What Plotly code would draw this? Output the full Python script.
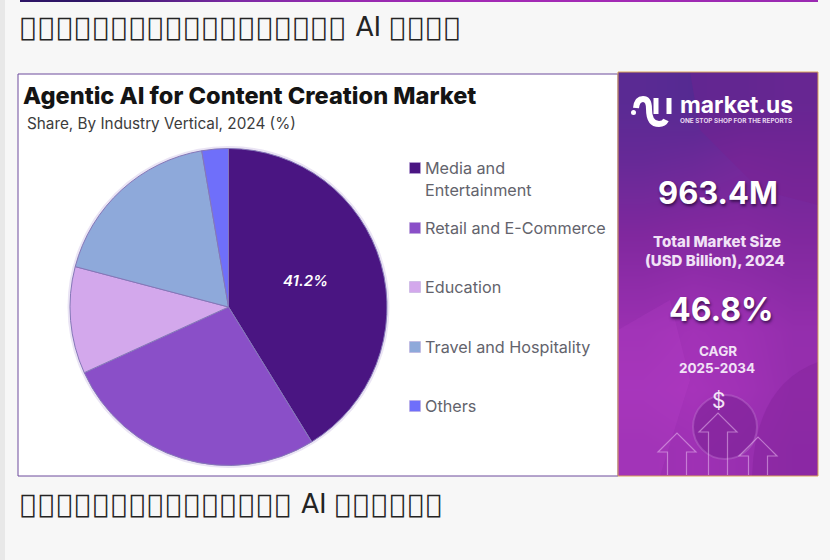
"""Agentic AI for Content Creation Market - pie card rebuilt on a pixel-sized plotly canvas."""

import plotly.graph_objects as go

# ─── Data ────────────────────────────────────────────────────────────────────

SEGMENTS = ["Media and<br>Entertainment", "Retail and E-Commerce", "Education",
            "Travel and Hospitality", "Others"]
SHARES = [41.2, 27.0, 10.9, 18.2, 2.7]
SLICE_COLORS = ["#4a1582", "#8a4fc8", "#d3a8ec", "#8ea9da", "#6f6ffa"]

# the page headings show up as missing-glyph boxes in the reference, the script can't be read
BOX = "\ue000\u200a"
HEADING_TOP = BOX * 18 + " AI " + BOX * 4
HEADING_BOTTOM = BOX * 15 + " AI " + BOX * 6

PANEL_SHADES = [
    [0.05, 0.00, 0.02, 0.08],
    [0.18, 0.22, 0.30, 0.26],
    [0.38, 0.42, 0.45, 0.40],
    [0.60, 0.66, 0.62, 0.55],
    [0.82, 0.90, 0.84, 0.72],
    [0.90, 0.96, 0.88, 0.74],
    [0.82, 0.86, 0.78, 0.70],
]
BAR_SHADES = [[0.0, 0.45, 0.85, 1.0, 1.0, 0.9], [0.0, 0.45, 0.85, 1.0, 1.0, 0.9]]

# ─── Design Tokens ───────────────────────────────────────────────────────────

PAGE_BG = "#f7f7f7"
TEXT_FONT = "Inter, sans-serif"
HEAD_FONT = "DejaVu Sans, sans-serif"
GREY = "#63636c"
PANEL_SCALE = [[0, "#552a92"], [0.45, "#80289e"], [1, "#a934bc"]]
BAR_SCALE = [[0, "#2e1566"], [0.5, "#7d2aa5"], [1, "#a32ab5"]]

LEGEND_Y = [168, 228, 287, 347, 406]
PIE_X, PIE_Y, PIE_R = 228.5, 307, 158.5


def label(x, y, text, size, color=GREY, weight=400, family=TEXT_FONT, anchor="left",
          shadow=None, style="normal", opacity=1):
    return dict(
        x=x, y=y, text=text, xref="x", yref="y", showarrow=False, opacity=opacity,
        xanchor=anchor, yanchor="middle", align=anchor,
        font=dict(size=size, color=color, family=family, weight=weight,
                  style=style, shadow=shadow or "none"),
    )


def arrow_path(tip_x, tip_y, half_head, half_shaft, head_y, foot_y):
    return (f"M {tip_x - half_shaft} {foot_y} L {tip_x - half_shaft} {head_y} "
            f"L {tip_x - half_head} {head_y} L {tip_x} {tip_y} L {tip_x + half_head} {head_y} "
            f"L {tip_x + half_shaft} {head_y} L {tip_x + half_shaft} {foot_y}")


fig = go.Figure()

# gradient strips
fig.add_trace(go.Heatmap(
    z=PANEL_SHADES, x0=618 + 200 / 8, dx=200 / 4, y0=72 + 404 / 14, dy=404 / 7,
    colorscale=PANEL_SCALE, zmin=0, zmax=1, zsmooth="best", showscale=False, hoverinfo="skip",
))
fig.add_trace(go.Heatmap(
    z=BAR_SHADES, x0=20 + 798 / 12, dx=798 / 6, y0=0.5, dy=1,
    colorscale=BAR_SCALE, zmin=0, zmax=1, zsmooth="best", showscale=False, hoverinfo="skip",
))

fig.add_trace(go.Pie(
    labels=SEGMENTS, values=SHARES, textinfo="none",
    marker=dict(colors=SLICE_COLORS, line=dict(color="#8577b8", width=1)),
    sort=False, direction="clockwise", rotation=0, showlegend=False,
    domain=dict(x=[(PIE_X - PIE_R) / 830, (PIE_X + PIE_R) / 830],
                y=[1 - (PIE_Y + PIE_R) / 560, 1 - (PIE_Y - PIE_R) / 560]),
))

# legend keys
fig.add_trace(go.Scatter(
    x=[415] * len(SEGMENTS), y=LEGEND_Y, mode="markers", hoverinfo="skip", showlegend=False,
    marker=dict(symbol="square", size=11, color=SLICE_COLORS,
                line=dict(color="#b9a6d8", width=0.5)),
))

shapes = [
    dict(type="rect", x0=0, x1=5, y0=0, y1=560, fillcolor="#e8e8e8", line_width=0, layer="below"),
    dict(type="rect", x0=18, x1=618, y0=74, y1=476, fillcolor="#ffffff",
         line=dict(color="#6d4a9c", width=1), layer="below"),
    # soft rim round the pie
    dict(type="circle", x0=PIE_X - PIE_R - 1, x1=PIE_X + PIE_R + 1,
         y0=PIE_Y - PIE_R - 1, y1=PIE_Y + PIE_R + 1, fillcolor="#ffffff",
         line=dict(color="rgba(150,120,200,0.2)", width=3), layer="below"),
    # panel backdrop
    dict(type="path", path="M 690 72 L 818 72 L 818 205 L 760 190 L 700 130 Z",
         fillcolor="#7a1f90", opacity=0.35, line_width=0, layer="above"),
    dict(type="path", path="M 618 330 L 670 300 L 690 380 L 660 476 L 618 476 Z",
         fillcolor="#c04ad0", opacity=0.18, line_width=0, layer="above"),
    dict(type="path", path="M 752 476 Q 755 385 818 362 L 818 476 Z",
         fillcolor="#7d1f95", opacity=0.35, line_width=0, layer="above"),
    dict(type="circle", x0=693, x1=757, y0=395, y1=459, fillcolor="#7c2296", opacity=0.6,
         line=dict(color="rgba(200,140,215,0.5)", width=2), layer="above"),
]
for tip_x, tip_y in [(677, 433), (718, 413), (758, 437)]:
    shapes.append(dict(
        type="path", path=arrow_path(tip_x, tip_y, 19, 9.5, tip_y + 19, 475),
        line=dict(color="rgba(240,200,245,0.5)", width=1.2), layer="above",
    ))
shapes += [
    dict(type="rect", x0=618, x1=818, y0=72, y1=476, fillcolor="rgba(0,0,0,0)",
         line=dict(color="#dba35a", width=1), layer="above"),
    # logo
    dict(type="path", path="M 636 108 Q 637 99 643 99 Q 649 99 649 109 Q 649 124 659 124 Q 664 124 666 120",
         line=dict(color="#ffffff", width=6), layer="above"),
    dict(type="line", x0=656, x1=656, y0=98, y1=114, line=dict(color="#ffffff", width=5), layer="above"),
    dict(type="line", x0=669, x1=669, y0=98, y1=114, line=dict(color="#ffffff", width=5), layer="above"),
    dict(type="circle", x0=631, x1=636, y0=110, y1=115, fillcolor="#ffffff", line_width=0, layer="above"),
]

soft = "1px 2px 3px rgba(40,10,60,0.8)"
pale = "#f1e2f6"
annotations = [
    label(18, 27, HEADING_TOP, 26, color="#222222", family=HEAD_FONT, opacity=0.99),
    label(18, 504, HEADING_BOTTOM, 26, color="#222222", family=HEAD_FONT, opacity=0.99),
    label(21, 95, "Agentic AI for Content Creation Market", 23.6, color="#141414", weight=800),
    label(25, 123, "Share, By Industry Vertical, 2024 (%)", 15.3, color="#3c3c3c"),
    label(423, 168, "Media and", 16.2),
    label(423, 190, "Entertainment", 16.2),
    label(423, 228, SEGMENTS[1], 16.2),
    label(423, 287, SEGMENTS[2], 16.2),
    label(423, 347, SEGMENTS[3], 16.2),
    label(423, 406, SEGMENTS[4], 16.2),
    label(305, 280, "41.2%", 15, color="#ffffff", weight=600, style="italic", anchor="center"),
    label(678, 104, "market.us", 22.8, color="#ffffff", weight=700),
    label(678, 120.5, "ONE STOP SHOP FOR THE REPORTS", 6.4, color="#e8d8f0", weight=700),
    label(718, 192, "963.4M", 31, color="#ffffff", weight=700, anchor="center", shadow=soft),
    label(717, 241, "Total Market Size", 15, color=pale, weight=800, anchor="center"),
    label(715, 260, "(USD Billion), 2024", 15, color=pale, weight=800, anchor="center"),
    label(721, 309, "46.8%", 32, color="#ffffff", weight=700, anchor="center", shadow=soft),
    label(718, 351, "CAGR", 13.5, color=pale, weight=700, anchor="center"),
    label(717, 368, "2025-2034", 13.5, color=pale, weight=700, anchor="center"),
    label(718, 400, "$", 21, color="#f3e4f7", anchor="center"),
]

fig.update_layout(
    width=830, height=560, margin=dict(l=0, r=0, t=0, b=0),
    paper_bgcolor=PAGE_BG, plot_bgcolor=PAGE_BG,
    xaxis=dict(range=[0, 830], visible=False, fixedrange=True),
    yaxis=dict(range=[560, 0], visible=False, fixedrange=True),
    shapes=shapes, annotations=annotations,
)

fig.write_html("out.html", config=dict(displayModeBar=False),
               post_script="document.body.style.margin='0';")
